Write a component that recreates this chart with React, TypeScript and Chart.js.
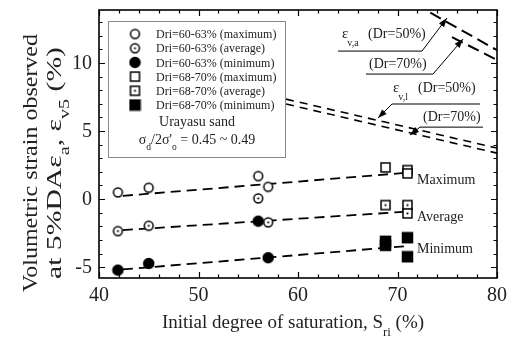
import React, { useEffect, useRef } from 'react';
import { Chart, registerables } from 'chart.js';
Chart.register(...registerables);

const FONT = '"Liberation Serif", "Times New Roman", serif';

// axis ticks
const xTickLabels = [40, 50, 60, 70, 80];
const yTickLabels = [-5, 0, 5, 10];

// Dri = 60-63 % (circles)
const circX = [41.9, 45.0, 56.0, 57.0];
const circMaxY = [0.49, 0.83, 1.69, 0.9];
const circAvgY = [-2.35, -1.96, 0.05, -1.71];
const circMinY = [-5.22, -4.73, -1.62, -4.31];

// Dri = 68-70 % (squares)
const sqMaxX = [68.8, 71.0, 71.0];
const sqMaxY = [2.33, 2.13, 1.89];
const sqAvgX = [68.8, 71.0, 71.0];
const sqAvgY = [-0.44, -0.44, -1.05];
const sqMinX = [68.8, 68.8, 71.0, 71.0];
const sqMinY = [-3.1, -3.4, -2.84, -4.24];

// trend lines
const trendX = [42.4, 70.8];
const trendMaxY = [0.24, 1.93];
const trendAvgY = [-2.28, -0.93];
const trendMinY = [-5.17, -3.46];
const trendLabels = ['Maximum', 'Average', 'Minimum'];

// predicted lines
const evlX = [58.8, 80];
const evl50Y = [7.35, 3.75];
const evl70Y = [6.99, 3.38];
const eva50X = [73.3, 80];
const eva50Y = [13.7, 10.95];
const eva70X = [75.48, 80];
const eva70Y = [11.91, 10.22];

const legendLabels = [
  'Dri=60-63% (maximum)',
  'Dri=60-63% (average)',
  'Dri=60-63% (minimum)',
  'Dri=68-70% (maximum)',
  'Dri=68-70% (average)',
  'Dri=68-70% (minimum)',
];

const pts = (xs: number[], ys: number[]) => xs.map((x, i) => ({ x, y: ys[i] }));

function makeMarker(shape: 'circle' | 'square', style: 'open' | 'dot' | 'filled') {
  const c = document.createElement('canvas');
  c.width = 13;
  c.height = 13;
  const g = c.getContext('2d')!;
  const cx = 6.5, cy = 6.5;
  g.lineWidth = 1.5;
  g.strokeStyle = '#000';
  g.fillStyle = style === 'filled' ? '#000' : '#fff';
  g.beginPath();
  if (shape === 'circle') {
    g.arc(cx, cy, style === 'filled' ? 5 : 4.4, 0, Math.PI * 2);
  } else {
    const h = style === 'filled' ? 5 : 4.5;
    g.rect(cx - h, cy - h, 2 * h, 2 * h);
  }
  g.fill();
  g.stroke();
  if (style === 'dot') {
    g.fillStyle = '#000';
    g.beginPath();
    g.arc(cx, cy, 1.1, 0, Math.PI * 2);
    g.fill();
  }
  return c;
}

type Seg = { t: string; sub?: boolean };

function drawRich(ctx: CanvasRenderingContext2D, segs: Seg[], x: number, y: number, size: number, align: 'left' | 'center') {
  const subSize = size * 0.68;
  const widths = segs.map((s) => {
    ctx.font = `${s.sub ? subSize : size}px ${FONT}`;
    return ctx.measureText(s.t).width;
  });
  const total = widths.reduce((a, b) => a + b, 0);
  let cx = align === 'left' ? x : x - total / 2;
  ctx.textAlign = 'left';
  ctx.textBaseline = 'alphabetic';
  segs.forEach((s, i) => {
    ctx.font = `${s.sub ? subSize : size}px ${FONT}`;
    ctx.fillText(s.t, cx, y + (s.sub ? size * 0.4 : 0));
    cx += widths[i];
  });
  return total;
}

export default function App() {
  const ref = useRef<HTMLCanvasElement>(null);

  useEffect(() => {
    const canvas = ref.current!;
    const mOpenC = makeMarker('circle', 'open');
    const mDotC = makeMarker('circle', 'dot');
    const mFillC = makeMarker('circle', 'filled');
    const mOpenS = makeMarker('square', 'open');
    const mDotS = makeMarker('square', 'dot');
    const mFillS = makeMarker('square', 'filled');
    const markers = [mOpenC, mDotC, mFillC, mOpenS, mDotS, mFillS];

    const scatter = (label: string, data: any[], m: HTMLCanvasElement) => ({
      type: 'scatter' as const,
      label,
      data,
      pointStyle: m,
      pointRadius: 5,
      showLine: false,
    });
    const line = (label: string, data: any[], dash: number[], w: number) => ({
      type: 'line' as const,
      label,
      data,
      borderColor: '#000',
      borderWidth: w,
      borderDash: dash,
      pointRadius: 0,
      showLine: true,
      fill: false,
      tension: 0,
    });

    const toX = (chart: any, v: number) => chart.scales.x.getPixelForValue(v);
    const toY = (chart: any, v: number) => chart.scales.y.getPixelForValue(v);

    const decor = {
      id: 'decor',
      beforeDraw(chart: any) {
        const ctx = chart.ctx;
        ctx.save();
        ctx.fillStyle = '#fff';
        ctx.fillRect(0, 0, chart.width, chart.height);
        ctx.restore();
      },
      afterDatasetsDraw(chart: any) {
        const ctx: CanvasRenderingContext2D = chart.ctx;
        const { left, right, top, bottom } = chart.chartArea;
        const xs = chart.scales.x;
        const ys = chart.scales.y;
        ctx.save();
        ctx.fillStyle = '#000';
        ctx.strokeStyle = '#000';

        // ---- legend box
        const lx = left + 9, ly = top + 11, lw = 177, lh = 136;
        ctx.fillStyle = '#fff';
        ctx.fillRect(lx, ly, lw, lh);
        ctx.strokeStyle = '#888';
        ctx.lineWidth = 1;
        ctx.strokeRect(lx + 0.5, ly + 0.5, lw, lh);
        ctx.fillStyle = '#222';
        ctx.font = `12px ${FONT}`;
        ctx.textBaseline = 'middle';
        ctx.textAlign = 'left';
        legendLabels.forEach((lab, i) => {
          const ry = ly + 13 + i * 14.2;
          const m = markers[i];
          ctx.drawImage(m, lx + 27 - m.width / 2, ry - m.height / 2);
          ctx.fillText(lab, lx + 48, ry + 1);
        });
        ctx.font = `14px ${FONT}`;
        ctx.textAlign = 'center';
        ctx.fillText('Urayasu sand', lx + 89, ly + 101);
        drawRich(
          ctx,
          [{ t: 'σ' }, { t: 'd', sub: true }, { t: '/2σ\'' }, { t: 'o', sub: true }, { t: ' = 0.45 ~ 0.49' }],
          lx + 89,
          ly + 123,
          14,
          'center'
        );

        // ---- frame
        ctx.strokeStyle = '#000';
        ctx.fillStyle = '#000';
        ctx.lineWidth = 1.6;
        ctx.strokeRect(left, top, right - left, bottom - top);

        // ---- ticks (inward, all four sides)
        ctx.lineWidth = 1.2;
        ctx.beginPath();
        for (let v = xs.min; v <= xs.max + 1e-6; v += 2) {
          const px = Math.round(xs.getPixelForValue(v)) + 0.5;
          const len = Math.abs(v % 10) < 1e-6 ? 6 : 3.5;
          ctx.moveTo(px, bottom);
          ctx.lineTo(px, bottom - len);
          ctx.moveTo(px, top);
          ctx.lineTo(px, top + len);
        }
        for (let v = Math.ceil(ys.min); v <= ys.max + 1e-6; v += 1) {
          const py = Math.round(ys.getPixelForValue(v)) + 0.5;
          const len = Math.abs(v % 5) < 1e-6 ? 6 : 3.5;
          ctx.moveTo(left, py);
          ctx.lineTo(left + len, py);
          ctx.moveTo(right, py);
          ctx.lineTo(right - len, py);
        }
        ctx.stroke();

        // ---- tick labels
        ctx.fillStyle = '#222';
        ctx.font = `20px ${FONT}`;
        ctx.textAlign = 'center';
        ctx.textBaseline = 'middle';
        xTickLabels.forEach((v) => ctx.fillText(String(v), xs.getPixelForValue(v), bottom + 18));
        ctx.textAlign = 'right';
        yTickLabels.forEach((v) => ctx.fillText(String(v), left - 7, ys.getPixelForValue(v) + 1));

        // ---- axis titles
        ctx.fillStyle = '#222';
        drawRich(
          ctx,
          [{ t: 'Initial degree of saturation, S' }, { t: 'ri', sub: true }, { t: ' (%)' }],
          (left + right) / 2 - 5,
          bottom + 50,
          19,
          'center'
        );
        const yTitle = (segs: Seg[], bx: number, target: number) => {
          const size = 21;
          ctx.save();
          ctx.translate(bx, 163);
          ctx.rotate(-Math.PI / 2);
          let w = 0;
          segs.forEach((s) => {
            ctx.font = `${s.sub ? size * 0.68 : size}px ${FONT}`;
            w += ctx.measureText(s.t).width;
          });
          ctx.scale(target / w, 1);
          drawRich(ctx, segs, 0, 0, size, 'center');
          ctx.restore();
        };
        yTitle([{ t: 'Volumetric strain observed' }], 37, 258);
        yTitle(
          [{ t: 'at 5%DAε' }, { t: 'a', sub: true }, { t: ', ε' }, { t: 'v5', sub: true }, { t: ' (%)' }],
          61,
          232
        );

        // ---- annotations
        ctx.fillStyle = '#222';
        const txt = (s: string, x: number, y: number, size: number) => {
          ctx.font = `${size}px ${FONT}`;
          ctx.textAlign = 'left';
          ctx.textBaseline = 'alphabetic';
          ctx.fillText(s, toX(chart, x), toY(chart, y));
        };
        const eps = (sub: string, x: number, y: number) => {
          ctx.font = `15px ${FONT}`;
          ctx.textAlign = 'left';
          ctx.textBaseline = 'alphabetic';
          const px = toX(chart, x), py = toY(chart, y);
          ctx.fillText('ε', px, py);
          const w = ctx.measureText('ε').width;
          ctx.font = `10px ${FONT}`;
          ctx.fillText(sub, px + w - 1, py + 8);
        };
        eps('v,a', 64.42, 11.84);
        txt('(Dr=50%)', 67.04, 11.84, 14);
        txt('(Dr=70%)', 67.14, 9.63, 14);
        eps('v,l', 69.55, 7.87);
        txt('(Dr=50%)', 72.06, 7.87, 14);
        txt('(Dr=70%)', 72.56, 5.74, 14);

        // labels of the trend lines
        txt(trendLabels[0], 71.96, 1.1, 14);
        txt(trendLabels[1], 71.96, -1.62, 14);
        txt(trendLabels[2], 71.96, -3.97, 14);

        const arrow = (p: number[][]) => {
          const q = p.map(([x, y]) => [toX(chart, x), toY(chart, y)]);
          ctx.strokeStyle = '#000';
          ctx.lineWidth = 1;
          ctx.beginPath();
          ctx.moveTo(q[0][0], q[0][1]);
          for (let i = 1; i < q.length; i++) ctx.lineTo(q[i][0], q[i][1]);
          ctx.stroke();
          const [x1, y1] = q[q.length - 2];
          const [x2, y2] = q[q.length - 1];
          const a = Math.atan2(y2 - y1, x2 - x1);
          const L = 9, H = 3.2;
          ctx.fillStyle = '#000';
          ctx.beginPath();
          ctx.moveTo(x2, y2);
          ctx.lineTo(x2 - L * Math.cos(a) + H * Math.sin(a), y2 - L * Math.sin(a) - H * Math.cos(a));
          ctx.lineTo(x2 - L * Math.cos(a) - H * Math.sin(a), y2 - L * Math.sin(a) + H * Math.cos(a));
          ctx.closePath();
          ctx.fill();
        };
        arrow([[64.02, 10.88], [72.46, 10.88], [74.97, 13.31]]);
        arrow([[66.83, 9.19], [73.57, 9.19], [76.58, 11.76]]);
        arrow([[78.29, 6.99], [69.45, 6.99], [68.04, 5.96]]);
        arrow([[78.59, 5.29], [72.26, 5.29], [71.26, 4.71]]);

        ctx.restore();
      },
    };

    const chart = new Chart(canvas, {
      type: 'scatter',
      data: {
        datasets: [
          scatter(legendLabels[0], pts(circX, circMaxY), mOpenC),
          scatter(legendLabels[1], pts(circX, circAvgY), mDotC),
          scatter(legendLabels[2], pts(circX, circMinY), mFillC),
          scatter(legendLabels[3], pts(sqMaxX, sqMaxY), mOpenS),
          scatter(legendLabels[4], pts(sqAvgX, sqAvgY), mDotS),
          scatter(legendLabels[5], pts(sqMinX, sqMinY), mFillS),
          line(trendLabels[0], pts(trendX, trendMaxY), [10, 6], 1.8),
          line(trendLabels[1], pts(trendX, trendAvgY), [10, 6], 1.8),
          line(trendLabels[2], pts(trendX, trendMinY), [10, 6], 1.8),
          line('ev,l Dr=50%', pts(evlX, evl50Y), [8, 6], 1.6),
          line('ev,l Dr=70%', pts(evlX, evl70Y), [8, 6], 1.6),
          line('ev,a Dr=50%', pts(eva50X, eva50Y), [12, 6], 2),
          line('ev,a Dr=70%', pts(eva70X, eva70Y), [12, 6], 2),
        ] as any,
      },
      options: {
        animation: false,
        responsive: false,
        devicePixelRatio: 1,
        layout: { padding: { left: 99, right: 20, top: 10, bottom: 64 } },
        plugins: { legend: { display: false }, tooltip: { enabled: false } },
        scales: {
          x: { type: 'linear', display: false, min: 40, max: 80 },
          y: { type: 'linear', display: false, min: -5.8, max: 13.9 },
        },
      },
      plugins: [decor],
    });

    return () => chart.destroy();
  }, []);

  return (
    <div style={{ position: 'absolute', left: 0, top: 0, width: 517, height: 342, background: '#fff' }}>
      <canvas ref={ref} width={517} height={342} style={{ width: 517, height: 342, display: 'block' }} />
    </div>
  );
}
